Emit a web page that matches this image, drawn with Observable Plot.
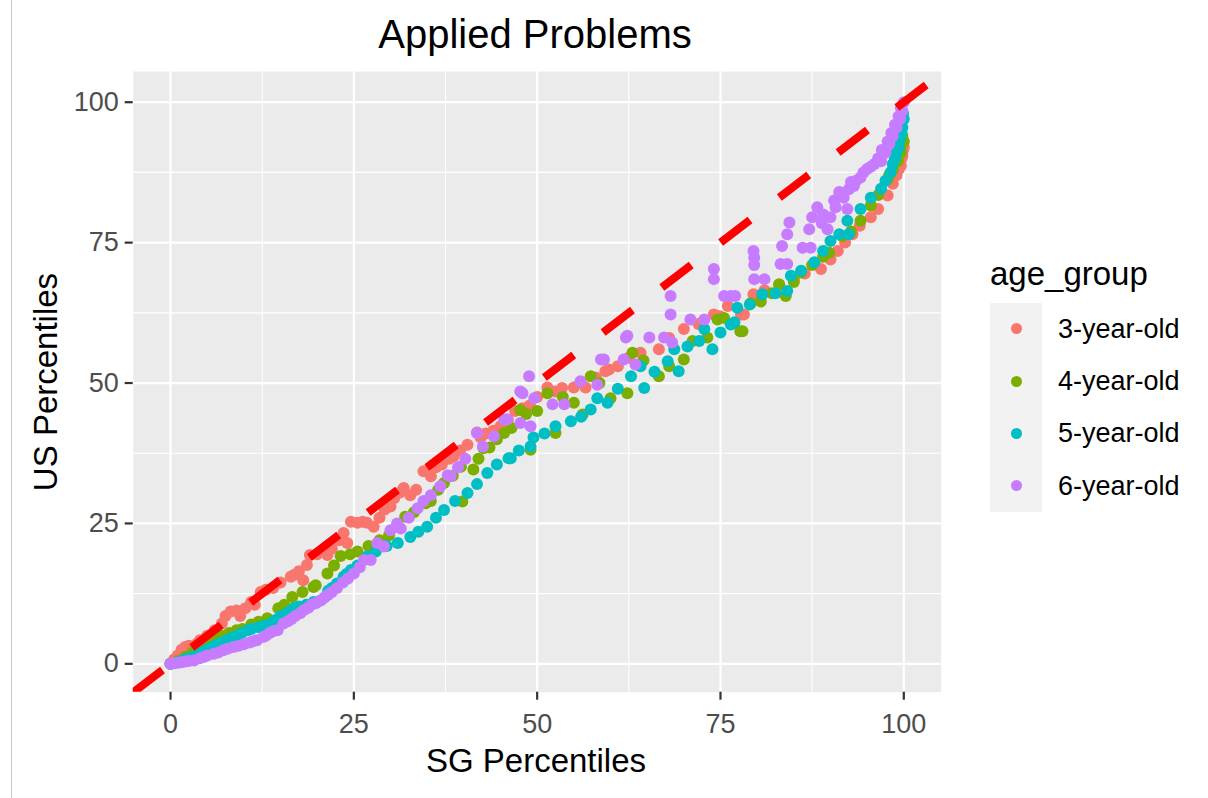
<!DOCTYPE html>
<html>
<head>
<meta charset="utf-8">
<script src="https://cdn.jsdelivr.net/npm/d3@7"></script>
<script src="https://cdn.jsdelivr.net/npm/@observablehq/plot@0.6"></script>
<style>
html, body { margin: 0; padding: 0; background: #fff; }
#wrap { position: relative; width: 1208px; height: 798px; overflow: hidden; font-family: "Liberation Sans", Arial, sans-serif; }
#chart { position: absolute; left: 0; top: 0; }
.t { position: absolute; white-space: nowrap; line-height: 1; color: #000; }
#edge { position: absolute; left: 11px; top: 0; width: 1px; height: 798px; background: #c8c8c8; }
</style>
</head>
<body>
<div id="wrap">
  <div id="chart"></div>
  <div id="edge"></div>
  <div class="t" id="title" style="left:535px; top:14px; font-size:40px; transform:translateX(-50%);">Applied Problems</div>
  <div class="t" id="xlab" style="left:536px; top:744px; font-size:33px; transform:translateX(-50%);">SG Percentiles</div>
  <div class="t" id="ylab" style="left:45px; top:381.5px; font-size:33px; transform:translate(-50%,-50%) rotate(-90deg);">US Percentiles</div>
  <div id="legend"></div>
</div>
<script>
// ---- data ----
const groups = ["3-year-old", "4-year-old", "5-year-old", "6-year-old"];
const groupColors = ["#F8766D", "#7CAE00", "#00BFC4", "#C77CFF"];
const legendTitle = "age_group";
const majorTicks = [0, 25, 50, 75, 100];
const minorTicks = [12.5, 37.5, 62.5, 87.5];
const identityLine = [-5.1, 105.5]; // y = x reference line

// [SG percentile, US percentile]
const age3 = [[0,0],[0.5,0.8],[1,1.5],[1.5,2.5],[2,3],[2.5,3.2],[3,3],[3.5,3.5],[4,4.2],[5,5],[6,6],[7,7.2],[7.5,8.5],[8.2,9.3],[9,9.5],[9.5,8.5],[10.2,9.9],[11,11],[11.5,10.5],[12.3,12.8],[13,13.2],[14,13.5],[15,14.5],[16.4,15.5],[16.8,15.8],[17.5,16.5],[18.1,14.9],[18.6,17.6],[19,19.4],[20,19.5],[21.4,19.4],[22,20.5],[23,22],[23.6,23.3],[24.1,21.5],[24.6,25.3],[25.5,25.1],[26.2,25.3],[26.8,25.1],[27.7,24.4],[28.5,26],[29.2,27.5],[30,28],[30.5,29.5],[31.3,30.5],[31.8,31.3],[32.7,30],[33.5,31],[34.5,34.3],[35.5,33.4],[36.2,35],[37,35.5],[38,36.5],[38.6,36.9],[39.5,38],[40.5,39],[41.8,41.2],[42.3,40.3],[43,41],[44,41.5],[45,42.3],[46,43.5],[47,45],[48,45.5],[49,46],[50,47.5],[51.4,49.2],[52.5,48.5],[53.4,49.1],[55,49.2],[56.6,49.2],[58,51],[59.3,52.1],[59.8,52.4],[61,53],[62.5,54.5],[64.1,55.4],[66.6,56],[68,58],[70,59.6],[72,60.5],[74.1,62.2],[74.9,61.9],[76,63.7],[77.8,62.2],[78.2,62.2],[79.5,65.8],[81,66.5],[83,67.5],[85,68.5],[86.5,69.5],[88.7,70.3],[90,72],[91,73.5],[92,75],[93,76.5],[94,78],[95.5,79.5],[96.5,81],[97.8,83.4],[98.5,85.5],[99,87],[99.3,88],[99.6,88.7],[99.7,90],[99.8,90.5],[99.9,91.5],[100,92]];

const age4 = [[0,0],[1,0.5],[2,1.2],[3,2],[4,2.8],[5,3.5],[6,4.5],[7,5],[8,5.5],[9,6],[9.8,6.2],[11,7],[12,7.5],[13.2,8.1],[14.7,9.9],[15.5,10.5],[16.6,11.9],[18,12.8],[19.5,13.7],[19.8,14],[21.4,16.1],[22.3,17.5],[23.2,19.2],[24.5,19.5],[25.5,20],[27,21],[28.5,22],[29.8,22.9],[31,24.5],[32,26.2],[33.2,27],[34.8,28.6],[35.5,29],[36.5,31],[37.3,32.2],[38.5,33.5],[39.6,35.1],[39.8,28.9],[41.3,34.6],[42,36.5],[42.7,38.4],[43.5,38.5],[44.5,40],[45.5,41.1],[46.5,42],[47.7,45.2],[49.1,38.1],[48.5,44.5],[50,45],[51.4,48.2],[52.5,41.1],[53.5,47.5],[55,46.5],[56.2,44.4],[57.3,51.2],[58.5,50],[60,47.3],[62.3,48.2],[63,55.4],[64.5,54],[66.6,51.2],[68,53],[70,54.2],[71.2,57.5],[73.2,58.1],[74.6,61.3],[75.5,61.6],[77.7,59.2],[78,59.2],[79.1,64.2],[80.5,64.5],[82,66],[83,67.6],[83.9,65.5],[85,68],[86,69.7],[87.5,71],[89,72.5],[89.8,73.2],[91.6,76.2],[92.8,77],[94.1,78.9],[95.5,81.6],[96.5,83.5],[97.8,86.3],[98,87],[98.5,88],[99,90],[99.2,89.5],[99.5,92],[99.6,91],[99.8,94],[100,93]];

const age5 = [[0,0],[1,0.3],[1.5,0.5],[2,0.8],[2.5,1],[3,1.2],[3.5,1.5],[4,1.8],[4.5,2.2],[5,2.5],[5.5,2.8],[6,3.2],[6.5,3.5],[7,3.8],[7.7,4.2],[8.3,4.6],[9,5],[9.7,5.5],[10.5,6],[11,6.2],[12,6.5],[12.8,6.8],[13.6,7.2],[14.3,7.8],[15,8.5],[16,9.2],[16.8,9.9],[17.5,10.2],[18.5,10.5],[19.5,11],[20.5,11.3],[21.5,13],[22,13.5],[22.7,14.3],[23.6,15.5],[24,16],[24.6,16.7],[25.5,17.5],[26.8,19.1],[28,20],[29.5,21],[31,21.5],[32.7,22.6],[33.8,23.5],[35,24.4],[36.2,26],[37.3,27.4],[38.8,29],[40.5,30.4],[41.8,32],[43.2,34],[44.5,35.5],[46.1,36.6],[46.4,36.6],[47.5,38],[49.1,38.7],[49.5,40.3],[51,41],[52.5,42.3],[54.6,43.2],[56,44],[57.3,45.3],[58.2,47.3],[59.6,46.5],[61,49],[62.8,51.2],[64.1,53],[64.6,49.1],[66,52],[67.8,53.9],[68.7,56],[69.3,52.1],[70.5,56.5],[72.1,57.5],[72.8,59.6],[73.9,56],[75,59],[76.4,60.4],[76.9,60.8],[77.3,63.4],[79,64],[80.7,65.8],[82.5,66],[84.1,66.4],[84.6,69.1],[86,70],[87.8,71.5],[89,73.5],[90,75.3],[91.2,76.5],[92.3,78.9],[92.5,76.5],[94.1,81],[95.5,83],[96.9,84.6],[97.5,86],[98.2,87.5],[98.5,89],[98.8,90],[99,91],[99.3,92],[99.5,93.5],[99.7,94.5],[99.8,95.5],[99.9,98],[100,97]];

const age6 = [[0,0],[0.5,0.1],[1,0.2],[1.5,0.3],[2,0.4],[2.5,0.5],[3.2,0.6],[4,1],[4.5,1.2],[5,1.5],[5.9,1.8],[6.5,2],[7.2,2.4],[7.8,2.7],[8.6,3],[9.3,3.2],[10,3.5],[10.8,3.8],[11.2,4],[11.8,4.2],[12.7,4.8],[13,5],[13.5,5.5],[14,5.8],[14.6,6],[15.4,7.2],[16,7.6],[16.5,8],[17,8.5],[17.7,9],[18.2,9.6],[18.8,10],[19.2,10.5],[19.8,10.8],[20.5,11.3],[21,11.8],[21.5,12.3],[22,12.8],[22.7,13.5],[23.5,14.5],[24.2,15.2],[25,16.1],[25.8,17.2],[26.4,18.5],[27.3,18.5],[28.2,21.5],[29.1,20.9],[30,23.8],[30.9,25],[31.4,24.1],[32.5,26],[33.7,27.7],[34.5,29],[35.5,30],[36.8,31.6],[37.8,33.6],[38.2,33.4],[39.2,35],[40.2,36.5],[41.8,41.1],[42.6,38.7],[44.1,40.5],[45.5,43.5],[45.9,43.5],[47.7,42.9],[47.7,48.5],[48,48.2],[48.9,51.2],[49.1,42.3],[49.6,47.3],[52.1,46.2],[53.7,46.2],[55.9,50.3],[58.2,49.7],[58.7,54.2],[59.1,54.2],[61.8,54.2],[62.1,58.1],[62.3,58.4],[63.4,53.3],[65.3,58.1],[67.3,58.1],[68.4,57.2],[68.2,62.2],[68.2,65.5],[70.9,61.3],[72.8,61.3],[74.1,70.3],[74.1,68.5],[75.5,65.5],[76.4,65.5],[77,65.5],[79.6,68.5],[81,68.5],[79.5,73.5],[79.6,72.3],[79.6,71],[83.2,71.2],[84.1,71.2],[83.4,74.4],[84.1,76.5],[84.4,78.6],[86.2,74.1],[87.3,74.1],[87.1,77.4],[87.5,79.5],[88.2,81.3],[88.8,78.5],[89,80],[89.6,77.4],[90,79.5],[90.5,82.5],[90.7,81.3],[91.2,84],[91.8,83],[92.3,81],[92.5,84.5],[92.8,85.8],[93.2,85.1],[93.5,86],[94.1,86.6],[94.5,87.5],[95,88.1],[95.5,88.5],[96,89],[96.5,90],[96.9,89.5],[97,91.5],[97.5,91],[97.8,93],[98,92.5],[98.3,94.5],[98.5,94],[98.8,96],[99,95.5],[99.3,97.5],[99.5,97],[99.6,99],[99.8,98.5],[100,100]];

const seriesByGroup = [age3, age4, age5, age6];

// ---- table built from the arrays ----
const rows = groups.flatMap((g, i) => seriesByGroup[i].map(([sg, us]) => ({group: g, sg, us})));

const gridStyle = {stroke: "#ffffff", strokeOpacity: 1};

const chart = Plot.plot({
  width: 1208,
  height: 798,
  marginLeft: 132.7,
  marginRight: 267.3,
  marginTop: 71,
  marginBottom: 106.3,
  x: {domain: [-5.09, 105.1]},
  y: {domain: [-5.05, 105.47]},
  color: {domain: groups, range: groupColors},
  style: {fontFamily: "'Liberation Sans', Arial, sans-serif", background: "white", overflow: "visible"},
  marks: [
    Plot.frame({fill: "#EBEBEB", stroke: null}),
    Plot.gridX(minorTicks, {...gridStyle, strokeWidth: 1.1}),
    Plot.gridY(minorTicks, {...gridStyle, strokeWidth: 1.1}),
    Plot.gridX(majorTicks, {...gridStyle, strokeWidth: 2.2}),
    Plot.gridY(majorTicks, {...gridStyle, strokeWidth: 2.2}),
    Plot.dot(rows, {x: "sg", y: "us", fill: "group", r: 6, stroke: null}),
    Plot.line(identityLine, {x: d => d, y: d => d, stroke: "#FF0000", strokeWidth: 8, strokeDasharray: "37,37", strokeLinecap: "butt", clip: true}),
    Plot.axisX(majorTicks, {anchor: "bottom", label: null, tickSize: 8, tickPadding: 14, fontSize: 27, stroke: "#333333", strokeWidth: 2.2, fill: "#4d4d4d"}),
    Plot.axisY(majorTicks, {anchor: "left", label: null, tickSize: 8, tickPadding: 6.5, fontSize: 27, stroke: "#333333", strokeWidth: 2.2, fill: "#4d4d4d"})
  ]
});
document.getElementById("chart").appendChild(chart);

// ---- legend (HTML) ----
const legend = document.getElementById("legend");
const lt = document.createElement("div");
lt.className = "t";
lt.style.cssText = "left:990px; top:257px; font-size:33px;";
lt.textContent = legendTitle;
legend.appendChild(lt);
const keyBox = document.createElement("div");
keyBox.style.cssText = "position:absolute; left:990px; top:302.7px; width:52.3px; height:209px; background:#F2F2F2;";
legend.appendChild(keyBox);
groups.forEach((g, i) => {
  const cy = 302.7 + 52.25 * (i + 0.5);
  const dot = document.createElement("div");
  dot.style.cssText = `position:absolute; left:${1016.3 - 5.5}px; top:${cy - 5.5}px; width:11px; height:11px; border-radius:50%; background:${groupColors[i]};`;
  legend.appendChild(dot);
  const lab = document.createElement("div");
  lab.className = "t";
  lab.style.cssText = `left:1058px; top:${cy}px; font-size:27px; transform:translateY(-50%);`;
  lab.textContent = g;
  legend.appendChild(lab);
});
</script>
</body>
</html>
